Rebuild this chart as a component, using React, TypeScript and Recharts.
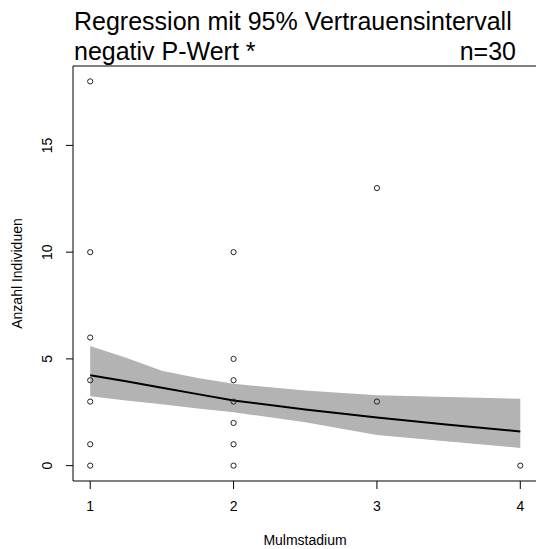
import React from "react";
import { ComposedChart, Area, Line, Scatter, XAxis, YAxis, ReferenceLine } from "recharts";

// fitted curve + 95% band
const stageGrid = [1, 1.25, 1.5, 1.75, 2, 2.5, 3, 3.5, 4];
const fitValues = [4.23, 3.95, 3.65, 3.35, 3.05, 2.63, 2.25, 1.92, 1.6];
const upperValues = [5.6, 5.05, 4.45, 4.1, 3.83, 3.52, 3.3, 3.21, 3.13];
const lowerValues = [3.25, 3.05, 2.88, 2.68, 2.5, 2.03, 1.43, 1.13, 0.83];

// observations (overlapping points only once)
const obsStage = [1, 1, 1, 1, 1, 1, 1, 2, 2, 2, 2, 2, 2, 2, 3, 3, 4];
const obsCount = [18, 10, 6, 4, 3, 1, 0, 10, 5, 4, 3, 2, 1, 0, 13, 3, 0];

const xTicks = [1, 2, 3, 4];
const yTicks = [0, 5, 10, 15];

const FONT = '"Liberation Sans", Arial, sans-serif';
const X_DOMAIN: [number, number] = [0.88, 4.12];
const Y_DOMAIN: [number, number] = [-0.72, 18.72];

const curveData = stageGrid.map((s, i) => ({
  stage: s,
  fit: fitValues[i],
  band: [lowerValues[i], upperValues[i]],
}));

const pointData = obsStage.map((s, i) => ({ stage: s, count: obsCount[i] }));

const XTick = (props: any) => (
  <text x={props.x} y={511} textAnchor="middle" fontSize={14} fontFamily={FONT} fill="#000">
    {props.payload.value}
  </text>
);

const YTick = (props: any) => (
  <text
    x={52}
    y={props.y}
    transform={`rotate(-90 52 ${props.y})`}
    textAnchor="middle"
    fontSize={14}
    fontFamily={FONT}
    fill="#000"
  >
    {props.payload.value}
  </text>
);

const OpenCircle = (props: any) => (
  <circle cx={props.cx} cy={props.cy} r={2.6} fill="none" stroke="#222" strokeWidth={1} />
);

export default function App() {
  return (
    <div style={{ position: "absolute", left: 0, top: 0, width: 536, height: 549, overflow: "hidden", background: "#fff" }}>
      <ComposedChart
        width={540}
        height={549}
        data={curveData}
        margin={{ top: 66, right: 2.5, bottom: 28, left: 13 }}
      >
        <XAxis
          dataKey="stage"
          type="number"
          domain={X_DOMAIN}
          ticks={xTicks}
          allowDataOverflow
          height={40}
          tickSize={8}
          tick={<XTick />}
          stroke="#000"
        />
        <YAxis
          type="number"
          domain={Y_DOMAIN}
          ticks={yTicks}
          allowDataOverflow
          width={60}
          tickSize={7}
          tick={<YTick />}
          stroke="#000"
        />
        <ReferenceLine y={Y_DOMAIN[1]} stroke="#000" />
        <Area
          dataKey="band"
          type="linear"
          stroke="none"
          fill="#b3b3b3"
          fillOpacity={1}
          isAnimationActive={false}
        />
        <Line
          dataKey="fit"
          type="linear"
          stroke="#000"
          strokeWidth={2}
          dot={false}
          isAnimationActive={false}
        />
        <Scatter data={pointData} dataKey="count" shape={<OpenCircle />} isAnimationActive={false} />
      </ComposedChart>
      <svg width={536} height={549} style={{ position: "absolute", left: 0, top: 0, pointerEvents: "none" }}>
        <g fontFamily={FONT} fill="#000">
          <text x={74} y={29.5} fontSize={25}>Regression mit 95% Vertrauensintervall</text>
          <text x={74} y={60} fontSize={25}>negativ P-Wert *</text>
          <text x={516} y={60} fontSize={25} textAnchor="end">n=30</text>
          <text x={305} y={545} fontSize={14} textAnchor="middle">Mulmstadium</text>
          <text x={22} y={273.5} fontSize={14} textAnchor="middle" transform="rotate(-90 22 273.5)">
            Anzahl Individuen
          </text>
        </g>
      </svg>
    </div>
  );
}
